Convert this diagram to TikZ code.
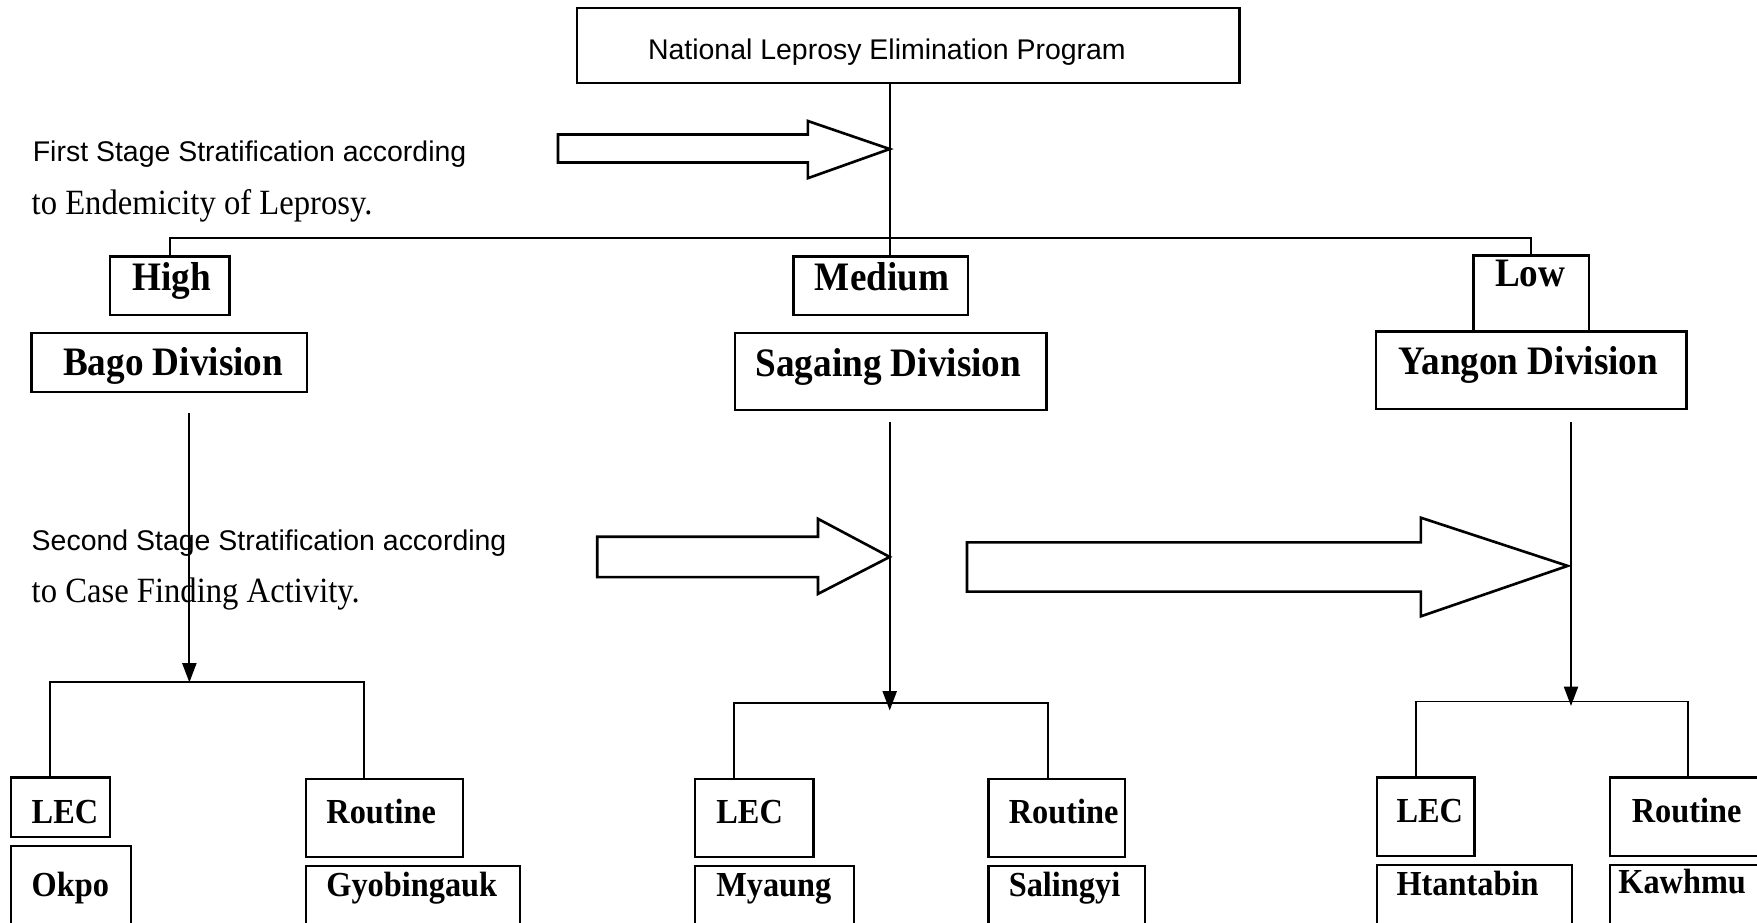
\documentclass[tikz,border=0pt]{standalone}
\usepackage{fontspec}
\setmainfont{Liberation Serif}
\newfontfamily\sansf{Liberation Sans}
\newfontfamily\serc[FakeStretch=0.92]{Liberation Serif}
\usetikzlibrary{fit,arrows.meta}
\begin{document}
\begin{tikzpicture}[x=0.02241cm,y=-0.02241cm,
  box/.style={draw, line width=1.4pt, inner sep=0pt, outer sep=0pt},
  conn/.style={line width=1.1pt},
  tipd/.style={-{Triangle[width=8pt,length=11pt]}},
  hollow/.style={draw, line width=1.5pt, line join=miter},
  sanslbl/.style={font=\sansf\fontsize{16.2}{18}\selectfont, inner sep=0pt, anchor=base west},
  serlbl/.style={font=\serc\fontsize{20.2}{23}\selectfont, inner sep=0pt, anchor=base west},
  toplbl/.style={font=\serc\bfseries\fontsize{23}{26}\selectfont, inner sep=0pt, anchor=base west},
  botlbl/.style={font=\serc\bfseries\fontsize{20}{24}\selectfont, inner sep=0pt, anchor=base west}]
\useasboundingbox (0,0) rectangle (1568,823);
\clip (0,0) rectangle (1568,823);

% boxes
\node[box, fit={(515,7) (1106,74)}] (top) {};
\node[box, fit={(98,229) (205,281)}] (high) {};
\node[box, fit={(708,229) (864,281)}] (med) {};
\node[box, fit={(1315,228) (1418,296)}] (low) {};
\node[box, fit={(28,297) (274,350)}] (bago) {};
\node[box, fit={(656,297) (934,366)}] (sag) {};
\node[box, fit={(1228,296) (1505,365)}] (yan) {};
\node[box, fit={(10,694) (98,747)}] (lecb) {};
\node[box, fit={(10,755) (117,860)}] (okpo) {};
\node[box, fit={(273,695) (413,765)}] (routb) {};
\node[box, fit={(273,773) (464,860)}] (gyob) {};
\node[box, fit={(620,695) (726,765)}] (lecs) {};
\node[box, fit={(620,773) (762,860)}] (myaung) {};
\node[box, fit={(882,695) (1004,765)}] (routs) {};
\node[box, fit={(882,773) (1022,860)}] (saling) {};
\node[box, fit={(1229,694) (1316,764)}] (lecy) {};
\node[box, fit={(1229,772) (1403,860)}] (htan) {};
\node[box, fit={(1437,694) (1620,764)}] (routy) {};
\node[box, fit={(1437,772) (1620,860)}] (kaw) {};

% texts
\node[sanslbl] (ttop) at (578,53) {National Leprosy Elimination Program};
\node[sanslbl] (t1a) at (29,144) {First Stage Stratification according};
\node[serlbl] (t1b) at (28,191) {to Endemicity of Leprosy.};
\node[sanslbl] (t2a) at (28,491) {Second Stage Stratification according};
\node[serlbl] (t2b) at (28,538) {to Case Finding Activity.};
\node[toplbl] (thigh) at (118,259) {High};
\node[toplbl] (tmed) at (727,259) {Medium};
\node[toplbl] (tlow) at (1334,256) {Low};
\node[toplbl] (tbago) at (56,335) {Bago Division};
\node[toplbl] (tsag) at (674,336) {Sagaing Division};
\node[toplbl] (tyan) at (1248,334) {Yangon Division};
\node[botlbl] (tlecb) at (28,735) {LEC};
\node[botlbl] (tokpo) at (28,800) {Okpo};
\node[botlbl] (troutb) at (291,735) {Routine};
\node[botlbl] (tgyob) at (291,800) {Gyobingauk};
\node[botlbl] (tlecs) at (639,735) {LEC};
\node[botlbl] (tmyaung) at (639,800) {Myaung};
\node[botlbl] (trouts) at (900,735) {Routine};
\node[botlbl] (tsaling) at (900,800) {Salingyi};
\node[botlbl] (tlecy) at (1246,734) {LEC};
\node[botlbl] (thtan) at (1246,799) {Htantabin};
\node[botlbl] (trouty) at (1456,734) {Routine};
\node[botlbl] (tkaw) at (1444,797) {Kawhmu};

% junction coordinates
\coordinate (j0) at (794,212);
\coordinate (jb0) at (169,369);
\coordinate (jb) at (169,609);
\coordinate (js0) at (794,377);
\coordinate (jsend) at (794,634);
\coordinate (jy0) at (1402,377);
\coordinate (jyend) at (1402,630);
\coordinate (dlb) at (45,609);
\coordinate (drb) at (325,609);
\coordinate (dls) at (655,627);
\coordinate (drs) at (935,627);
\coordinate (dly) at (1264,626);
\coordinate (dry) at (1506,626);

% first level connectors
\draw[conn] (j0 |- top.south) -- (j0 |- med.north);
\draw[conn] (high.north) -- (high.north |- j0) -- (low.north |- j0) -- (low.north);

% second level
\draw[conn,tipd] (jb0) -- (jb);
\draw[conn] (dlb |- lecb.north) -- (dlb) -- (drb) -- (drb |- routb.north);
\draw[conn,tipd] (js0) -- (jsend);
\draw[conn] (dls |- lecs.north) -- (dls) -- (drs) -- (drs |- routs.north);
\draw[conn,tipd] (jy0) -- (jyend);
\draw[conn] (dly |- lecy.north) -- (dly) -- (dry) -- (dry |- routy.north);

% hollow block arrows
\draw[hollow] (498,120) -- (721,120) -- (721,108) -- (794,133) -- (721,159) -- (721,145) -- (498,145) -- cycle;
\draw[hollow] (533,479) -- (730,479) -- (730,463) -- (794,497) -- (730,530) -- (730,515) -- (533,515) -- cycle;
\draw[hollow] (863,484) -- (1268,484) -- (1268,462) -- (1399,505) -- (1268,550) -- (1268,528) -- (863,528) -- cycle;
\end{tikzpicture}
\end{document}
